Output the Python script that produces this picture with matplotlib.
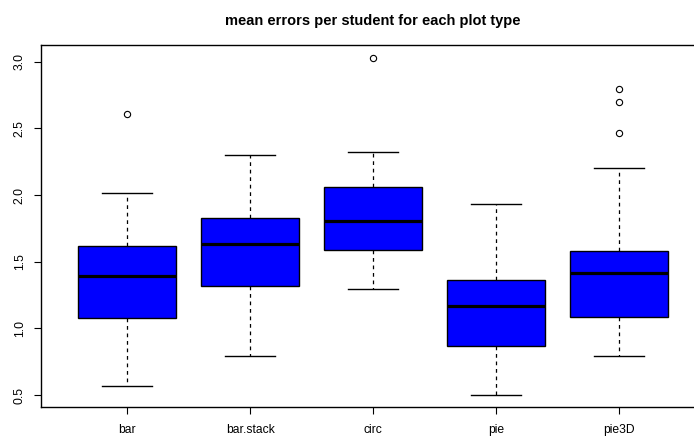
import matplotlib.pyplot as plt

plt.rcParams['font.family'] = ['Liberation Sans', 'DejaVu Sans']

# values
labels = ["bar", "bar.stack", "circ", "pie", "pie3D"]
whis_lo = [0.570, 0.795, 1.295, 0.498, 0.793]
q1 = [1.078, 1.318, 1.585, 0.865, 1.085]
med = [1.390, 1.630, 1.803, 1.168, 1.413]
q3 = [1.615, 1.825, 2.058, 1.363, 1.578]
whis_hi = [2.017, 2.298, 2.323, 1.930, 2.203]
outliers = [[2.605], [], [3.025], [], [2.463, 2.700, 2.795]]
yticks = [0.5, 1.0, 1.5, 2.0, 2.5, 3.0]

stats = []
for i in range(len(labels)):
    stats.append({"label": labels[i], "whislo": whis_lo[i], "q1": q1[i],
                  "med": med[i], "q3": q3[i], "whishi": whis_hi[i],
                  "fliers": outliers[i]})

fig = plt.figure(figsize=(6.94, 4.43), dpi=100)
ax = fig.add_axes([41/694, 1 - 407.3/443, 664/694, 362.3/443])

ax.bxp(stats, positions=range(1, 6), widths=0.8, patch_artist=True,
       boxprops=dict(facecolor="#0000ff", edgecolor="black", linewidth=1),
       medianprops=dict(color="black", linewidth=2.3),
       whiskerprops=dict(color="black", linewidth=0.9, linestyle=(0, (3, 3))),
       capprops=dict(color="black", linewidth=1),
       capwidths=0.4,
       flierprops=dict(marker="o", markersize=4.5, markerfacecolor="none",
                       markeredgecolor="black", markeredgewidth=0.8))

ax.set_xlim(0.3, 5.7)
ax.set_ylim(0.408, 3.125)
ax.set_yticks(yticks)
ax.set_yticklabels([f"{v:.1f}" for v in yticks], rotation=90, va="center")
ax.tick_params(axis="y", length=5, width=0.8, pad=6, labelsize=8.7)
ax.tick_params(axis="x", length=5, width=0.8, pad=7, labelsize=8.7)
for s in ax.spines.values():
    s.set_linewidth(1)

fig.text(373/694, 1 - 21/443, "mean errors per student for each plot type",
         ha="center", va="center", fontsize=10.5, fontweight="bold")

fig.savefig("out.png", dpi=100)
